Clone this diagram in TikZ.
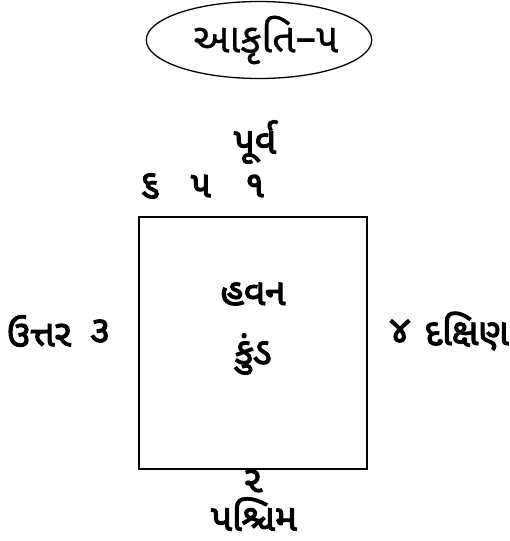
\documentclass[tikz,border=0pt]{standalone}
\usepackage{fontspec}
\usepackage{tikz}
\usetikzlibrary{positioning,shapes.geometric}
\newfontfamily\gujfont[Script=Gujarati,FakeBold=0.6]{Noto Sans Gujarati UI}
\newfontfamily\gujbold[Script=Gujarati,FakeBold=3]{Noto Sans Gujarati UI}

\begin{document}
\begin{tikzpicture}[
  x=1pt, y=-1pt,
  every node/.style={align=center, inner sep=0pt},
  title/.style={ellipse, draw=black, line width=1.3pt, minimum width=215pt, minimum height=77pt, font=\gujfont\fontsize{41}{44}\selectfont},
  label/.style={font=\gujbold\fontsize{37}{44}\selectfont},
  pit/.style={draw=black, line width=2.6pt}
]
\useasboundingbox (0,0) rectangle (510,541);

% --- TITLE ---
\node[title] (fig) at (259,40) {\hspace{14pt}આકૃતિ–૫};

% --- HAVAN KUND (square) ---
\coordinate (kundnw) at (139,217);
\coordinate (kundse) at (367,469);
\draw[pit] (kundnw) rectangle (kundse);
\node[label] (havan) at (253,294) {હવન};
\node[label] (kundtext) at (253,354) {કુંડ};

% --- EAST (top) ---
\node[label] (purva) at (255,142) {પૂર્વ};
\node[label] (six) at (150,186) {૬};
\node[label] (five) at (201,186) {૫};
\node[label] (one) at (255,186) {૧};

% --- NORTH (left) / SOUTH (right) ---
\node[label] (uttar) at (39,331) {ઉત્તર};
\node[label] (three) at (100,331) {૩};
\node[label] (four) at (400,331) {૪};
\node[label, anchor=east] (dakshin) at (509,331) {દક્ષિણ};

% --- WEST (bottom) ---
\node[label] (two) at (253,481) {૨};
\node[label] (pashchim) at (254,514) {પશ્ચિમ};

\end{tikzpicture}
\end{document}
